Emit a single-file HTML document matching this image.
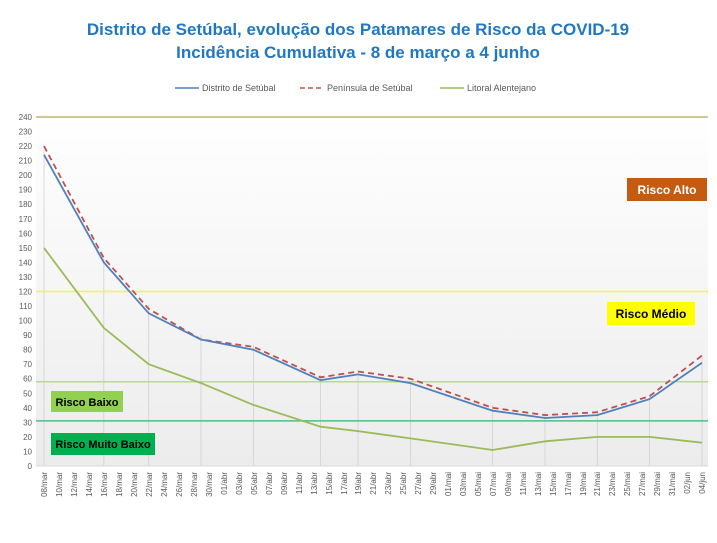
<!DOCTYPE html>
<html><head><meta charset="utf-8"><style>
body{margin:0;width:717px;height:538px;background:#fff;overflow:hidden;font-family:"Liberation Sans",sans-serif}
</style></head><body>
<svg width="717" height="538" xmlns="http://www.w3.org/2000/svg" font-family="Liberation Sans, sans-serif">
<defs><linearGradient id="bg" x1="0" y1="0" x2="0" y2="1"><stop offset="0" stop-color="#ffffff"/><stop offset="1" stop-color="#ececec"/></linearGradient></defs>
<rect x="36" y="110" width="672" height="356" fill="url(#bg)"/>
<text x="358" y="35" text-anchor="middle" font-size="17" font-weight="bold" fill="#1f78c1">Distrito de Setúbal, evolução dos Patamares de Risco da COVID-19</text>
<text x="358" y="58" text-anchor="middle" font-size="17" font-weight="bold" fill="#1f78c1">Incidência Cumulativa - 8 de março a 4 junho</text>
<g font-size="9" fill="#595959">
<line x1="175" y1="88" x2="199" y2="88" stroke="#4f81bd" stroke-width="1.5"/><text x="202" y="91">Distrito de Setúbal</text>
<line x1="300" y1="88" x2="324" y2="88" stroke="#c0504d" stroke-width="1.5" stroke-dasharray="5,3"/><text x="327" y="91">Península de Setúbal</text>
<line x1="440" y1="88" x2="464" y2="88" stroke="#9bbb59" stroke-width="1.5"/><text x="467" y="91">Litoral Alentejano</text>
</g>
<g stroke="#d0d0d0" stroke-width="0.8">
<line x1="44" y1="150" x2="44" y2="466"/><line x1="103.8" y1="255" x2="103.8" y2="466"/><line x1="148.7" y1="305" x2="148.7" y2="466"/><line x1="201" y1="335" x2="201" y2="466"/><line x1="253.4" y1="345" x2="253.4" y2="466"/><line x1="320.6" y1="375" x2="320.6" y2="466"/><line x1="358" y1="370" x2="358" y2="466"/><line x1="410.4" y1="378" x2="410.4" y2="466"/><line x1="492.6" y1="405" x2="492.6" y2="466"/><line x1="545" y1="412" x2="545" y2="466"/><line x1="597.3" y1="410" x2="597.3" y2="466"/><line x1="649.6" y1="395" x2="649.6" y2="466"/><line x1="702" y1="355" x2="702" y2="466"/>
</g>
<line x1="36" y1="466" x2="708" y2="466" stroke="#d9d9d9"/>
<line x1="36" y1="117" x2="708" y2="117" stroke="#c8b273" stroke-width="1.5"/>
<line x1="36" y1="291.5" x2="708" y2="291.5" stroke="#f2f25a" stroke-width="1.5"/>
<line x1="36" y1="381.7" x2="708" y2="381.7" stroke="#b7dd7c" stroke-width="1.5"/>
<line x1="36" y1="420.9" x2="708" y2="420.9" stroke="#4bbf86" stroke-width="1.5"/>
<polyline fill="none" stroke="#9bbb59" stroke-width="1.8" points="44,247.9 103.8,327.9 148.7,364.2 201,383.1 253.4,404.9 320.6,426.7 358,431.1 410.4,438.4 492.6,450 545,441.3 597.3,436.9 649.6,436.9 702,442.7"/>
<polyline fill="none" stroke="#c0504d" stroke-width="1.8" stroke-dasharray="6,4" points="44,146.1 103.8,258 148.7,308.9 201,339.5 253.4,346.8 320.6,377.3 358,371.5 410.4,378.7 492.6,407.8 545,415.1 597.3,412.2 649.6,396.2 702,355.5"/>
<polyline fill="none" stroke="#4f81bd" stroke-width="1.8" points="44,154.8 103.8,262.4 148.7,313.3 201,339.5 253.4,349.7 320.6,380.2 358,374.4 410.4,383.1 492.6,410.7 545,418 597.3,415.1 649.6,399.1 702,362.7"/>
<rect x="627" y="178" width="80" height="23" fill="#c55a11"/><text x="667" y="194" text-anchor="middle" font-size="12" font-weight="bold" fill="#fff">Risco Alto</text>
<rect x="607" y="302" width="88" height="23" fill="#ffff00"/><text x="651" y="318" text-anchor="middle" font-size="12" font-weight="bold" fill="#000">Risco Médio</text>
<rect x="51" y="391" width="72" height="21" fill="#92d050"/><text x="87" y="406" text-anchor="middle" font-size="11" font-weight="bold" fill="#000">Risco Baixo</text>
<rect x="51" y="433" width="104" height="22" fill="#00b050"/><text x="103" y="448" text-anchor="middle" font-size="11" font-weight="bold" fill="#000">Risco Muito Baixo</text>
<g font-size="8" fill="#595959" text-anchor="end">
<text x="32" y="469">0</text><text x="32" y="454.5">10</text><text x="32" y="439.9">20</text><text x="32" y="425.4">30</text><text x="32" y="410.8">40</text><text x="32" y="396.3">50</text><text x="32" y="381.7">60</text><text x="32" y="367.2">70</text><text x="32" y="352.7">80</text><text x="32" y="338.1">90</text><text x="32" y="323.6">100</text><text x="32" y="309">110</text><text x="32" y="294.5">120</text><text x="32" y="279.9">130</text><text x="32" y="265.4">140</text><text x="32" y="250.9">150</text><text x="32" y="236.3">160</text><text x="32" y="221.8">170</text><text x="32" y="207.2">180</text><text x="32" y="192.7">190</text><text x="32" y="178.1">200</text><text x="32" y="163.6">210</text><text x="32" y="149">220</text><text x="32" y="134.5">230</text><text x="32" y="120">240</text>
</g>
<g font-size="8" fill="#595959" text-anchor="end">
<text transform="translate(47,472) rotate(-90)">08/mar</text>
<text transform="translate(62,472) rotate(-90)">10/mar</text>
<text transform="translate(77,472) rotate(-90)">12/mar</text>
<text transform="translate(92,472) rotate(-90)">14/mar</text>
<text transform="translate(107,472) rotate(-90)">16/mar</text>
<text transform="translate(122,472) rotate(-90)">18/mar</text>
<text transform="translate(137,472) rotate(-90)">20/mar</text>
<text transform="translate(152,472) rotate(-90)">22/mar</text>
<text transform="translate(167,472) rotate(-90)">24/mar</text>
<text transform="translate(182,472) rotate(-90)">26/mar</text>
<text transform="translate(197,472) rotate(-90)">28/mar</text>
<text transform="translate(212,472) rotate(-90)">30/mar</text>
<text transform="translate(227,472) rotate(-90)">01/abr</text>
<text transform="translate(242,472) rotate(-90)">03/abr</text>
<text transform="translate(257,472) rotate(-90)">05/abr</text>
<text transform="translate(272,472) rotate(-90)">07/abr</text>
<text transform="translate(287,472) rotate(-90)">09/abr</text>
<text transform="translate(302,472) rotate(-90)">11/abr</text>
<text transform="translate(317,472) rotate(-90)">13/abr</text>
<text transform="translate(332,472) rotate(-90)">15/abr</text>
<text transform="translate(347,472) rotate(-90)">17/abr</text>
<text transform="translate(361,472) rotate(-90)">19/abr</text>
<text transform="translate(376,472) rotate(-90)">21/abr</text>
<text transform="translate(391,472) rotate(-90)">23/abr</text>
<text transform="translate(406,472) rotate(-90)">25/abr</text>
<text transform="translate(421,472) rotate(-90)">27/abr</text>
<text transform="translate(436,472) rotate(-90)">29/abr</text>
<text transform="translate(451,472) rotate(-90)">01/mai</text>
<text transform="translate(466,472) rotate(-90)">03/mai</text>
<text transform="translate(481,472) rotate(-90)">05/mai</text>
<text transform="translate(496,472) rotate(-90)">07/mai</text>
<text transform="translate(511,472) rotate(-90)">09/mai</text>
<text transform="translate(526,472) rotate(-90)">11/mai</text>
<text transform="translate(541,472) rotate(-90)">13/mai</text>
<text transform="translate(556,472) rotate(-90)">15/mai</text>
<text transform="translate(571,472) rotate(-90)">17/mai</text>
<text transform="translate(586,472) rotate(-90)">19/mai</text>
<text transform="translate(600,472) rotate(-90)">21/mai</text>
<text transform="translate(615,472) rotate(-90)">23/mai</text>
<text transform="translate(630,472) rotate(-90)">25/mai</text>
<text transform="translate(645,472) rotate(-90)">27/mai</text>
<text transform="translate(660,472) rotate(-90)">29/mai</text>
<text transform="translate(675,472) rotate(-90)">31/mai</text>
<text transform="translate(690,472) rotate(-90)">02/jun</text>
<text transform="translate(705,472) rotate(-90)">04/jun</text>
</g>
</svg>
</body></html>
